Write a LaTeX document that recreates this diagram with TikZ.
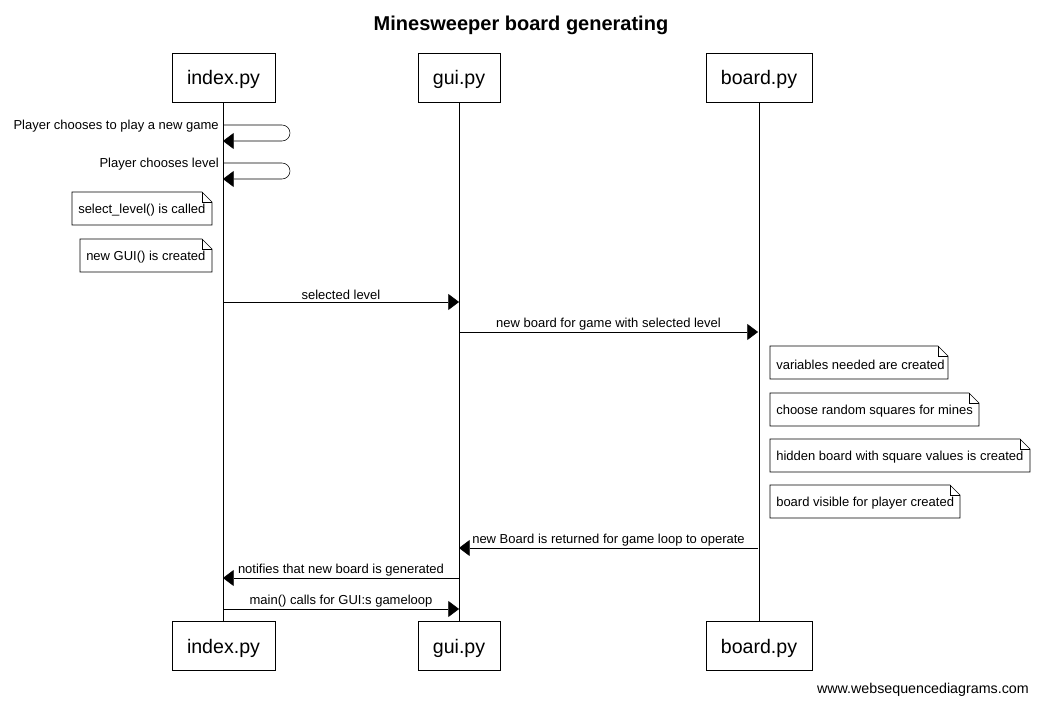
\documentclass[tikz,border=0pt]{standalone}
\usepackage{fontspec}
\setmainfont{Liberation Sans}
\usetikzlibrary{arrows.meta}

\tikzset{
  actorbox/.style={draw, minimum width=#1, minimum height=36.75pt, font=\fontsize{14.7}{16}\selectfont, inner sep=0pt, text depth=0pt},
  msg/.style={-{Triangle[length=8pt,width=12pt]}},
  msglabel/.style={font=\fontsize{9.75}{11}\selectfont, inner sep=1.5pt},
  notetext/.style={font=\fontsize{9.75}{11}\selectfont, inner sep=0pt, anchor=west}
}
% folded note: name, x of left edge, top y, bottom y, right x, text
\newcommand{\seqnote}[6]{
  \node [notetext] (#1) at (#2+6,{(#3+#4)/2+2}) {#6};
  \draw (#2,#4) -- (#2,#3) -- (#5-10,#3) -- (#5,#3+10) -- (#5,#4) -- cycle;
  \draw (#5-10,#3) -- (#5-10,#3+10) -- (#5,#3+10);
}

\begin{document}
\begin{tikzpicture}[x=0.75pt, y=-0.75pt]
  \useasboundingbox (0,0) rectangle (1039,705);

  \node [font=\bfseries\fontsize{15}{18}\selectfont] (title) at (521,25) {Minesweeper board generating};

  % participants
  \node [actorbox=77.25pt] (indextop) at (223.5,77.5) {index.py};
  \node [actorbox=61.5pt] (guitop) at (459,77.5) {gui.py};
  \node [actorbox=79.5pt] (boardtop) at (759,77.5) {board.py};
  \node [actorbox=77.25pt] (indexbot) at (223.5,646) {index.py};
  \node [actorbox=61.5pt] (guibot) at (459,646) {gui.py};
  \node [actorbox=79.5pt] (boardbot) at (759,646) {board.py};

  \draw (indextop) -- (indexbot);
  \draw (guitop) -- (guibot);
  \draw (boardtop) -- (boardbot);

  % self messages on index.py
  \coordinate (s1a) at (223,125);
  \coordinate (s1b) at (223,141);
  \coordinate (s2a) at (223,163);
  \coordinate (s2b) at (223,179);
  \draw [msg, rounded corners=6pt] (s1a) -- (290,125) -- (290,141) -- (s1b);
  \draw [msg, rounded corners=6pt] (s2a) -- (290,163) -- (290,179) -- (s2b);
  \node [msglabel, anchor=south east] (m1) at (221,134) {Player chooses to play a new game};
  \node [msglabel, anchor=south east] (m2) at (221,172) {Player chooses level};

  % notes on index.py
  \seqnote{n1}{72}{192}{225}{212}{select\_level() is called}
  \seqnote{n2}{80}{239}{272}{212}{new GUI() is created}

  % messages
  \coordinate (a1) at (223,302);
  \coordinate (b1) at (459,302);
  \draw [msg] (a1) -- node [msglabel, above] (m3) {selected level} (b1);

  \coordinate (a2) at (459,332);
  \coordinate (b2) at (758,332);
  \draw [msg] (a2) -- node [msglabel, above] (m4) {new board for game with selected level} (b2);

  % notes on board.py
  \seqnote{n3}{770}{346}{379}{948}{variables needed are created}
  \seqnote{n4}{770}{393}{426}{979}{choose random squares for mines}
  \seqnote{n5}{770}{439}{472}{1030}{hidden board with square values is created}
  \seqnote{n6}{770}{485}{518}{960}{board visible for player created}

  \coordinate (a3) at (758,548);
  \coordinate (b3) at (459,548);
  \draw [msg] (a3) -- node [msglabel, above] (m5) {new Board is returned for game loop to operate} (b3);

  \coordinate (a4) at (459,578);
  \coordinate (b4) at (223,578);
  \draw [msg] (a4) -- node [msglabel, above] (m6) {notifies that new board is generated} (b4);

  \coordinate (a5) at (223,609);
  \coordinate (b5) at (459,609);
  \draw [msg] (a5) -- node [msglabel, above] (m7) {main() calls for GUI:s gameloop} (b5);

  \node [font=\fontsize{10.7}{12}\selectfont, inner sep=1.5pt, anchor=east] (credit) at (1031,690) {www.websequencediagrams.com};
\end{tikzpicture}
\end{document}
